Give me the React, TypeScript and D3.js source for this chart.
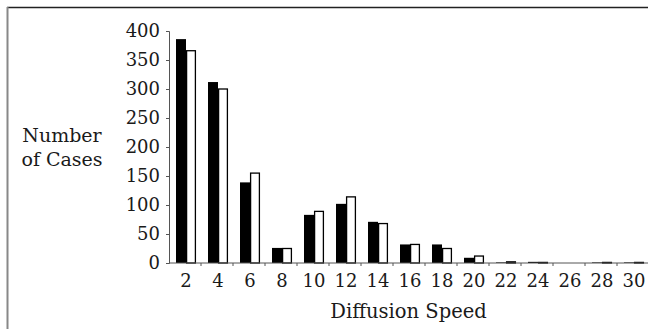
import React, { useRef, useEffect } from "react";
import * as d3 from "d3";

const speeds = ["2", "4", "6", "8", "10", "12", "14", "16", "18", "20", "22", "24", "26", "28", "30"];
const seriesA = [386, 312, 139, 26, 83, 102, 71, 32, 32, 9, 1, 2, 0, 1, 1];
const seriesB = [366, 300, 155, 25, 89, 114, 68, 32, 25, 12, 2, 1, 0, 1, 1];
const yTicks = [0, 50, 100, 150, 200, 250, 300, 350, 400];

export default function App() {
  const ref = useRef<SVGSVGElement>(null);

  useEffect(() => {
    const svg = d3.select(ref.current);
    svg.selectAll("*").remove();

    const width = 648;
    const height = 329;
    const margin = { top: 31, right: -1, bottom: 66, left: 169 };
    const font = "'DejaVu Serif', serif";

    // frame (runs off the right and bottom of the picture)
    svg.append("line")
      .attr("x1", 7).attr("x2", width).attr("y1", 7.5).attr("y2", 7.5)
      .attr("stroke", "#222").attr("stroke-width", 1.5);
    svg.append("line")
      .attr("x1", 7.5).attr("x2", 7.5).attr("y1", 7).attr("y2", height)
      .attr("stroke", "#888").attr("stroke-width", 2);

    const x = d3.scaleBand()
      .domain(speeds)
      .range([margin.left, width - margin.right]);

    const x1 = d3.scaleBand()
      .domain(["a", "b"])
      .range([7, 27]);

    const y = d3.scaleLinear()
      .domain([0, 400])
      .range([height - margin.bottom, margin.top]);

    const data = speeds.map((s, i) => ({ s, a: seriesA[i], b: seriesB[i] }));

    // black bars
    svg.append("g")
      .selectAll("rect")
      .data(data)
      .join("rect")
      .attr("x", (d) => x(d.s)! + x1("a")!)
      .attr("y", (d) => y(d.a))
      .attr("width", x1.bandwidth())
      .attr("height", (d) => y(0) - y(d.a))
      .attr("fill", "#000");

    // white bars
    svg.append("g")
      .selectAll("rect")
      .data(data)
      .join("rect")
      .attr("x", (d) => x(d.s)! + x1("b")! + 0.6)
      .attr("y", (d) => y(d.b))
      .attr("width", x1.bandwidth() - 1.2)
      .attr("height", (d) => y(0) - y(d.b))
      .attr("fill", "#fff")
      .attr("stroke", "#000")
      .attr("stroke-width", 1.3);

    // y axis
    const yAxis = svg.append("g")
      .attr("transform", `translate(${margin.left},0)`)
      .call(d3.axisLeft(y).tickValues(yTicks).tickSize(3).tickPadding(6));
    yAxis.select(".domain").attr("stroke", "#555");
    yAxis.selectAll(".tick line").attr("stroke", "#555");
    yAxis.selectAll(".tick text")
      .attr("fill", "#1a1a1a")
      .style("font-family", font)
      .style("font-size", "18px");

    // x axis, ticks sit between the categories
    const xAxis = svg.append("g")
      .attr("transform", `translate(0,${y(0)})`);
    xAxis.append("line")
      .attr("x1", margin.left).attr("x2", width)
      .attr("stroke", "#555");
    xAxis.selectAll("line.tk")
      .data(speeds.slice(1))
      .join("line")
      .attr("class", "tk")
      .attr("x1", (d) => x(d)!).attr("x2", (d) => x(d)!)
      .attr("y1", 0).attr("y2", 3)
      .attr("stroke", "#555");
    xAxis.selectAll("text")
      .data(speeds)
      .join("text")
      .attr("x", (d) => x(d)! + x.bandwidth() / 2 + 1)
      .attr("y", 24)
      .attr("text-anchor", "middle")
      .attr("fill", "#1a1a1a")
      .style("font-family", font)
      .style("font-size", "18px")
      .text((d) => d);

    // axis titles
    svg.append("text")
      .attr("x", (margin.left + width) / 2)
      .attr("y", 318)
      .attr("text-anchor", "middle")
      .attr("fill", "#1a1a1a")
      .style("font-family", font)
      .style("font-size", "19.5px")
      .text("Diffusion Speed");

    const yTitle = svg.append("text")
      .attr("text-anchor", "middle")
      .attr("fill", "#1a1a1a")
      .style("font-family", font)
      .style("font-size", "19px");
    yTitle.append("tspan").attr("x", 62).attr("y", 142).text("Number");
    yTitle.append("tspan").attr("x", 62).attr("y", 166).text("of Cases");
  }, []);

  return (
    <svg
      ref={ref}
      width={648}
      height={329}
      style={{ position: "absolute", left: 0, top: 0, background: "#fff" }}
    ></svg>
  );
}
